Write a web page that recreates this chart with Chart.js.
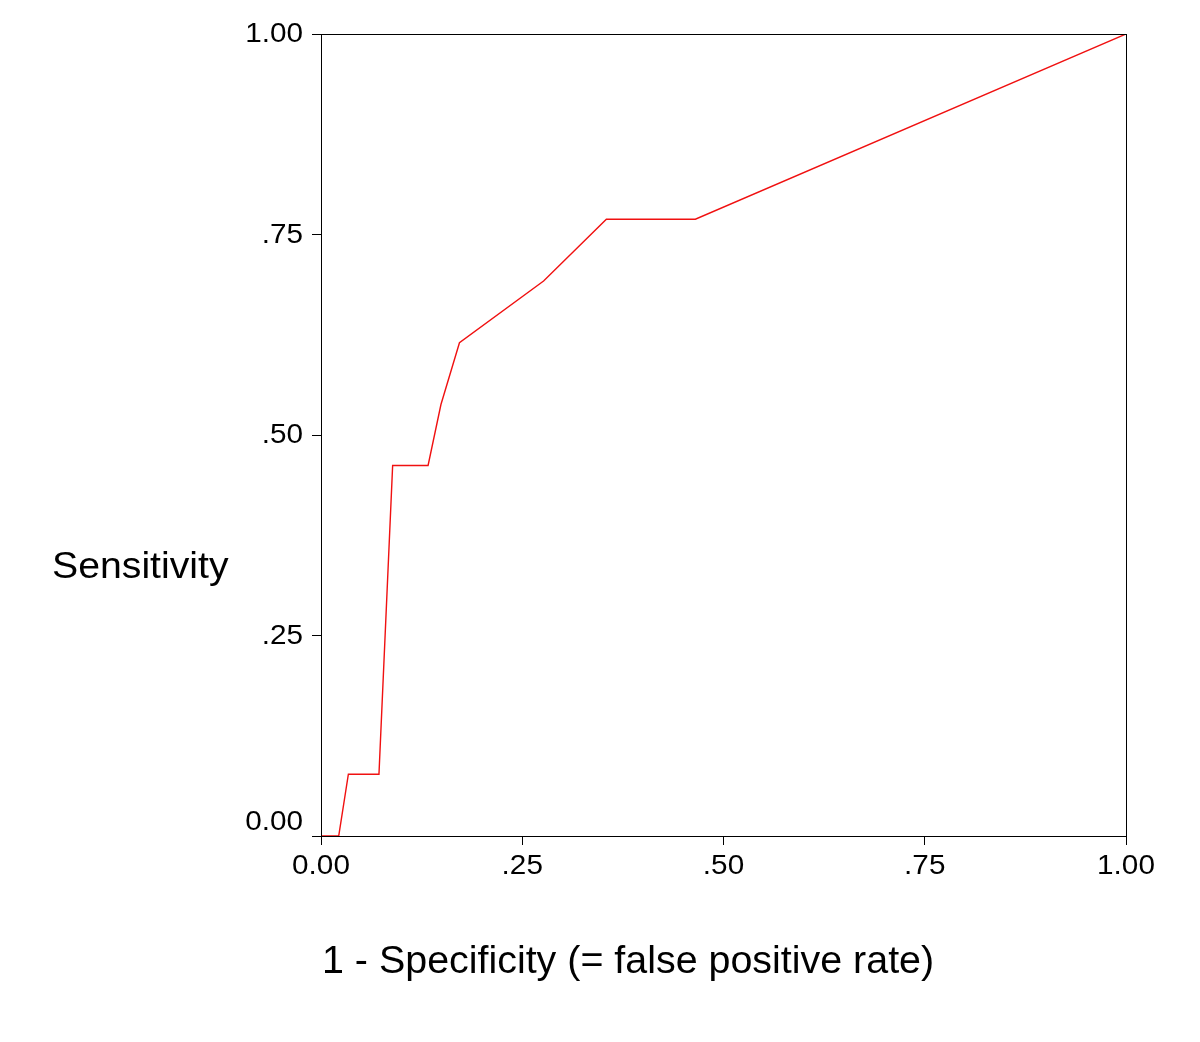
<!DOCTYPE html>
<html>
<head>
<meta charset="utf-8">
<script src="https://cdn.jsdelivr.net/npm/chart.js@4/dist/chart.umd.min.js"></script>
<style>
  html, body { margin: 0; padding: 0; background: #fff; }
  #roc { display: block; }
</style>
</head>
<body>
<canvas id="roc" width="1200" height="1042"></canvas>
<script>
// ROC curve points
const fpr = [0, 0.022, 0.034, 0.072, 0.089, 0.133, 0.149, 0.172, 0.2765, 0.3545, 0.465, 1];
const sens = [0, 0, 0.077, 0.077, 0.462, 0.462, 0.538, 0.615, 0.692, 0.769, 0.769, 1];

const tickValues = [0, 0.25, 0.5, 0.75, 1];
const tickLabels = ['0.00', '.25', '.50', '.75', '1.00'];

const xTitle = '1 - Specificity (= false positive rate)';
const yTitle = 'Sensitivity';

const FONT = '"Liberation Sans", Arial, Helvetica, sans-serif';

const points = fpr.map((x, i) => ({x, y: sens[i]}));

// the original text is a bit wider than Liberation Sans, so stretch it
const stretchText = (ctx, text, x, y, sx) => {
  ctx.save();
  ctx.translate(x, y);
  ctx.scale(sx, 1);
  ctx.fillText(text, 0, 0);
  ctx.restore();
};

// frame, tick labels and the two titles
const extras = {
  id: 'extras',
  afterDraw(chart) {
    const {ctx, chartArea: a, scales} = chart;
    ctx.save();
    ctx.strokeStyle = '#000';
    ctx.lineWidth = 1;
    ctx.strokeRect(a.left + 0.5, a.top + 0.5, a.right - a.left, a.bottom - a.top);

    ctx.fillStyle = '#000';
    ctx.font = '27px ' + FONT;
    ctx.textBaseline = 'middle';

    // y ticks (0.00 sits a bit above its tick)
    ctx.textAlign = 'right';
    tickValues.forEach((v, i) => {
      let y = scales.y.getPixelForValue(v);
      if (v === 0) y -= 14;
      stretchText(ctx, tickLabels[i], 303, y + 1, 1.1);
    });

    // x ticks
    ctx.textAlign = 'center';
    tickValues.forEach((v, i) => {
      const x = scales.x.getPixelForValue(v);
      stretchText(ctx, tickLabels[i], x, 867, 1.1);
    });

    ctx.textAlign = 'left';
    ctx.font = '37px ' + FONT;
    stretchText(ctx, yTitle, 52, 568, 1.06);
    ctx.font = '38px ' + FONT;
    stretchText(ctx, xTitle, 322, 963, 1.037);
    ctx.restore();
  },
};

new Chart(document.getElementById('roc'), {
  type: 'line',
  data: {
    datasets: [
      {
        data: points,
        borderColor: '#f01010',
        borderWidth: 1.4,
        pointRadius: 0,
        tension: 0,
        fill: false,
      },
    ],
  },
  options: {
    responsive: false,
    animation: false,
    layout: {padding: {top: 34, right: 74, left: 0, bottom: 0}},
    plugins: {legend: {display: false}, tooltip: {enabled: false}},
    scales: {
      x: {
        type: 'linear',
        min: 0,
        max: 1,
        afterBuildTicks: (s) => { s.ticks = tickValues.map((v) => ({value: v})); },
        afterFit: (s) => { s.height = 206; },
        grid: {drawOnChartArea: false, drawTicks: true, tickLength: 9, color: '#000'},
        border: {color: '#000', width: 1},
        ticks: {display: false},
      },
      y: {
        type: 'linear',
        min: 0,
        max: 1,
        afterBuildTicks: (s) => { s.ticks = tickValues.map((v) => ({value: v})); },
        afterFit: (s) => { s.width = 321; },
        grid: {drawOnChartArea: false, drawTicks: true, tickLength: 9, color: '#000'},
        border: {color: '#000', width: 1},
        ticks: {display: false},
      },
    },
  },
  plugins: [extras],
});
</script>
</body>
</html>
